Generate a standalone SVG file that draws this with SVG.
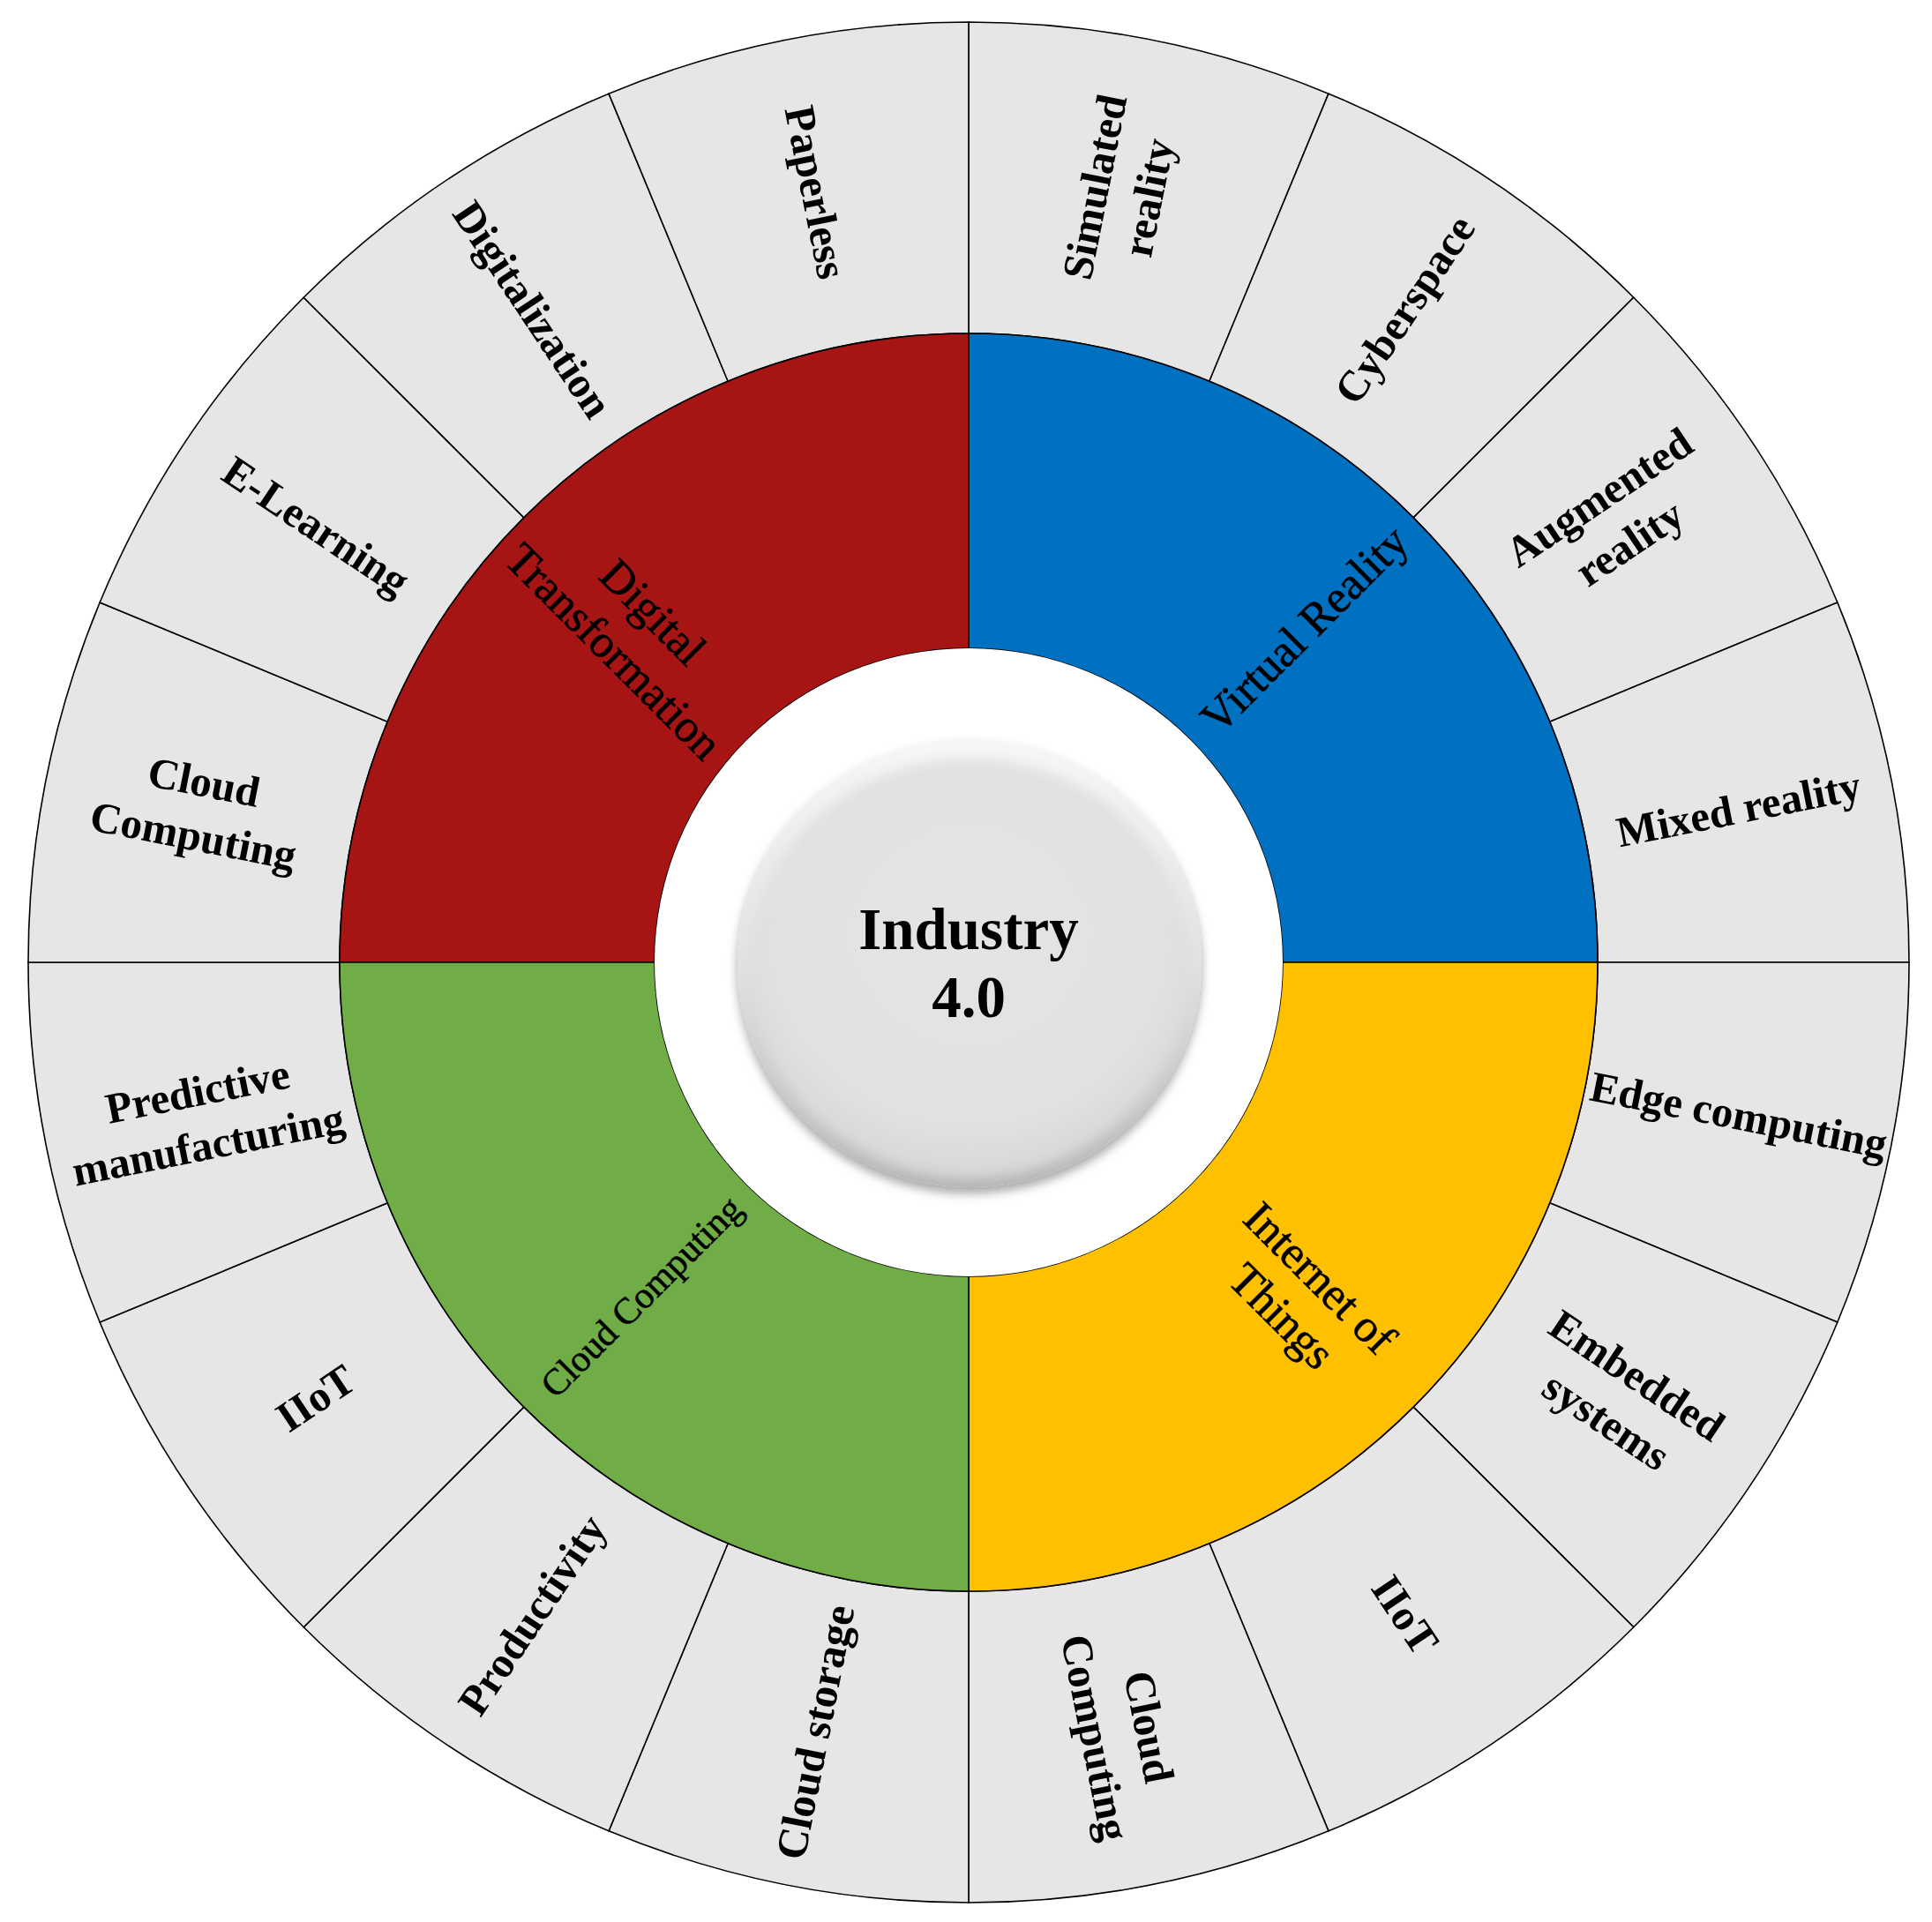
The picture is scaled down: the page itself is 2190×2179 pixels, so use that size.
<svg xmlns="http://www.w3.org/2000/svg" width="2190" height="2179" viewBox="0 0 2190 2179">
<style>
.seg{fill:#E6E6E6;stroke:#000;stroke-width:1.6}
.q{stroke:#000;stroke-width:1.6}
.ol{font-family:"Liberation Serif","Times New Roman",serif;font-weight:bold;font-size:49px;fill:#000;text-anchor:middle}
.il{font-family:"Liberation Serif","Times New Roman",serif;font-weight:normal;font-size:52px;fill:#000;stroke:#000;stroke-width:0.6;text-anchor:middle}
.ctr{font-family:"Liberation Serif","Times New Roman",serif;font-weight:bold;font-size:67px;fill:#000;text-anchor:middle}
</style>
<defs>
<linearGradient id="rim" x1="0" y1="0" x2="0" y2="1">
<stop offset="0" stop-color="#F7F7F7"/>
<stop offset="0.5" stop-color="#E2E2E2"/>
<stop offset="1" stop-color="#B5B5B5"/>
</linearGradient>
<radialGradient id="face" cx="50%" cy="42%" r="58%">
<stop offset="0" stop-color="#E4E4E4"/>
<stop offset="0.8" stop-color="#E1E1E1"/>
<stop offset="1" stop-color="#D6D6D6"/>
</radialGradient>
<filter id="shadow" x="-20%" y="-20%" width="140%" height="140%">
<feDropShadow dx="0" dy="7" stdDeviation="6" flood-color="#000" flood-opacity="0.35"/>
</filter>
<filter id="soft" x="-10%" y="-10%" width="120%" height="120%">
<feGaussianBlur stdDeviation="7"/>
</filter>
</defs>
<rect width="2190" height="2179" fill="#FFFFFF"/>

<!-- outer ring segments -->
<g id="outer-ring">
<g id="seg-simulated-reality"><path class="seg" d="M1098,25 A1066,1066 0 0 1 1505.94,106.15 L1370.85,432.27 A713,713 0 0 0 1098,378 Z"/>
<text class="ol" transform="translate(1271.6,218.1) rotate(-78.75)"><tspan x="0" y="-15">Simulated</tspan><tspan x="0" y="47">reality</tspan></text></g>
<g id="seg-cyberspace"><path class="seg" d="M1505.94,106.15 A1066,1066 0 0 1 1851.78,337.22 L1602.17,586.83 A713,713 0 0 0 1370.85,432.27 Z"/>
<text class="ol" transform="translate(1592.5,351) rotate(-56.25)" y="16">Cyberspace</text></g>
<g id="seg-augmented-reality"><path class="seg" d="M1851.78,337.22 A1066,1066 0 0 1 2082.85,683.06 L1756.73,818.15 A713,713 0 0 0 1602.17,586.83 Z"/>
<text class="ol" transform="translate(1830,590) rotate(-33.75)"><tspan x="0" y="-15">Augmented</tspan><tspan x="0" y="47">reality</tspan></text></g>
<g id="seg-mixed-reality"><path class="seg" d="M2082.85,683.06 A1066,1066 0 0 1 2164,1091 L1811,1091 A713,713 0 0 0 1756.73,818.15 Z"/>
<text class="ol" transform="translate(1970.9,917.4) rotate(-11.25)" y="16">Mixed reality</text></g>
<g id="seg-edge-computing"><path class="seg" d="M2164,1091 A1066,1066 0 0 1 2082.85,1498.94 L1756.73,1363.85 A713,713 0 0 0 1811,1091 Z"/>
<text class="ol" transform="translate(1970.9,1264.6) rotate(11.25)" y="16">Edge computing</text></g>
<g id="seg-embedded-systems"><path class="seg" d="M2082.85,1498.94 A1066,1066 0 0 1 1851.78,1844.78 L1602.17,1595.17 A713,713 0 0 0 1756.73,1363.85 Z"/>
<text class="ol" transform="translate(1838,1585.5) rotate(33.75)"><tspan x="0" y="-15">Embedded</tspan><tspan x="0" y="47">systems</tspan></text></g>
<g id="seg-iiot-right"><path class="seg" d="M1851.78,1844.78 A1066,1066 0 0 1 1505.94,2075.85 L1370.85,1749.73 A713,713 0 0 0 1602.17,1595.17 Z"/>
<text class="ol" transform="translate(1592.5,1831) rotate(56.25)" y="16">IIoT</text></g>
<g id="seg-cloud-computing-right"><path class="seg" d="M1505.94,2075.85 A1066,1066 0 0 1 1098,2157 L1098,1804 A713,713 0 0 0 1370.85,1749.73 Z"/>
<text class="ol" transform="translate(1271.6,1963.9) rotate(78.75)"><tspan x="0" y="-15">Cloud</tspan><tspan x="0" y="47">Computing</tspan></text></g>
<g id="seg-cloud-storage"><path class="seg" d="M1098,2157 A1066,1066 0 0 1 690.06,2075.85 L825.15,1749.73 A713,713 0 0 0 1098,1804 Z"/>
<text class="ol" transform="translate(924.4,1963.9) rotate(-78.75)" y="16">Cloud storage</text></g>
<g id="seg-productivity"><path class="seg" d="M690.06,2075.85 A1066,1066 0 0 1 344.22,1844.78 L593.83,1595.17 A713,713 0 0 0 825.15,1749.73 Z"/>
<text class="ol" transform="translate(603.5,1831) rotate(-56.25)" y="16">Productivity</text></g>
<g id="seg-iiot-left"><path class="seg" d="M344.22,1844.78 A1066,1066 0 0 1 113.15,1498.94 L439.27,1363.85 A713,713 0 0 0 593.83,1595.17 Z"/>
<text class="ol" transform="translate(358,1585.5) rotate(-33.75)" y="16">IIoT</text></g>
<g id="seg-predictive-manufacturing"><path class="seg" d="M113.15,1498.94 A1066,1066 0 0 1 32,1091 L385,1091 A713,713 0 0 0 439.27,1363.85 Z"/>
<text class="ol" transform="translate(230,1268) rotate(-11.25)"><tspan x="0" y="-15">Predictive</tspan><tspan x="0" y="47">manufacturing</tspan></text></g>
<g id="seg-cloud-computing-left"><path class="seg" d="M32,1091 A1066,1066 0 0 1 113.15,683.06 L439.27,818.15 A713,713 0 0 0 385,1091 Z"/>
<text class="ol" transform="translate(225.1,917.4) rotate(11.25)"><tspan x="0" y="-15">Cloud</tspan><tspan x="0" y="47">Computing</tspan></text></g>
<g id="seg-e-learning"><path class="seg" d="M113.15,683.06 A1066,1066 0 0 1 344.22,337.22 L593.83,586.83 A713,713 0 0 0 439.27,818.15 Z"/>
<text class="ol" transform="translate(358,596.5) rotate(33.75)" y="16">E-Learning</text></g>
<g id="seg-digitalization"><path class="seg" d="M344.22,337.22 A1066,1066 0 0 1 690.06,106.15 L825.15,432.27 A713,713 0 0 0 593.83,586.83 Z"/>
<text class="ol" transform="translate(603.5,351) rotate(56.25)" y="16">Digitalization</text></g>
<g id="seg-paperless"><path class="seg" d="M690.06,106.15 A1066,1066 0 0 1 1098,25 L1098,378 A713,713 0 0 0 825.15,432.27 Z"/>
<text class="ol" transform="translate(924.4,218.1) rotate(78.75)" y="16">Paperless</text></g>
</g>

<!-- inner coloured quadrants -->
<g id="digital-transformation">
<path class="q" fill="#A71414" d="M385,1091 A713,713 0 0 1 1098,378 L1098,735 A356,356 0 0 0 742,1091 Z"/>
<text class="il" transform="translate(718,716) rotate(45)"><tspan x="0" y="-14">Digital</tspan><tspan x="0" y="49">Transformation</tspan></text>
</g>
<g id="virtual-reality">
<path class="q" fill="#0070C0" d="M1098,378 A713,713 0 0 1 1811,1091 L1454,1091 A356,356 0 0 0 1098,735 Z"/>
<text class="il" transform="translate(1478,713) rotate(-45)" y="18">Virtual Reality</text>
</g>
<g id="internet-of-things">
<path class="q" fill="#FFC000" d="M1811,1091 A713,713 0 0 1 1098,1804 L1098,1447 A356,356 0 0 0 1454,1091 Z"/>
<text class="il" transform="translate(1474,1471) rotate(45)"><tspan x="0" y="-14">Internet of</tspan><tspan x="0" y="47">Things</tspan></text>
</g>
<g id="cloud-computing">
<path class="q" fill="#70AD47" d="M1098,1804 A713,713 0 0 1 385,1091 L742,1091 A356,356 0 0 0 1098,1447 Z"/>
<text class="il" style="font-size:42px" transform="translate(727,1470) rotate(-45)" y="14">Cloud Computing</text>
</g>

<!-- centre -->
<g id="industry-4-0">
<circle cx="1098" cy="1091" r="356" fill="#FFFFFF" stroke="none"/>
<ellipse cx="1099" cy="1092" rx="263" ry="254" fill="url(#rim)" filter="url(#shadow)"/>
<ellipse cx="1099" cy="1098" rx="250" ry="238" fill="url(#face)" filter="url(#soft)"/>
<text class="ctr" x="1098" y="1076">Industry</text>
<text class="ctr" x="1098" y="1153">4.0</text>
</g>
</svg>
